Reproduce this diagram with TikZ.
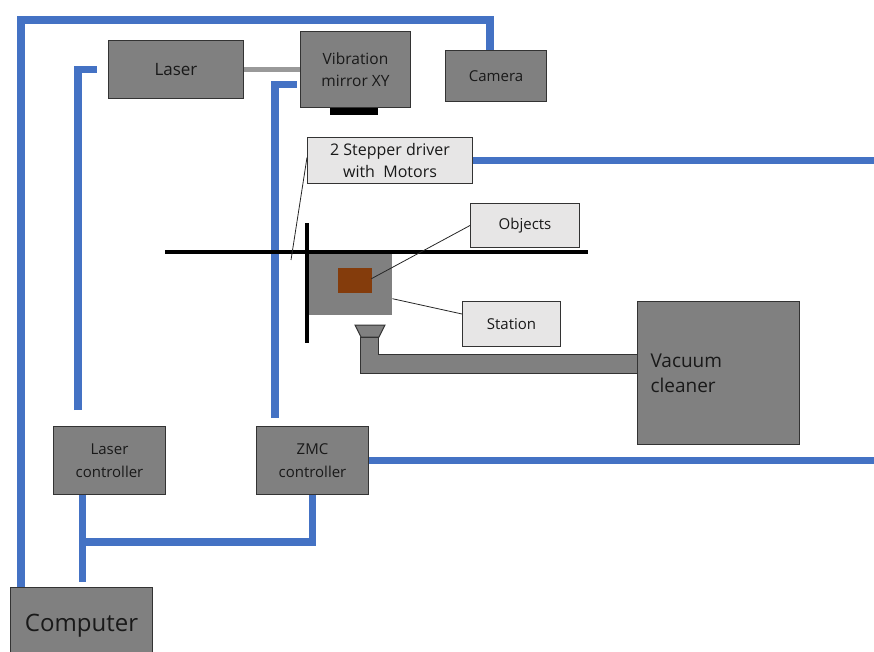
\documentclass[tikz,border=0pt]{standalone}
\usepackage{fontspec}
\setmainfont{Open Sans}
\definecolor{wireblue}{RGB}{68,114,196}
\definecolor{boxgray}{RGB}{128,128,128}
\definecolor{lblgray}{RGB}{231,230,230}
\definecolor{objbrown}{RGB}{132,60,12}
\newcommand\fsz[2]{\fontsize{#1}{#2}\selectfont}
\begin{document}
\begin{tikzpicture}[x=1pt,y=-1pt]
    \tikzstyle{box}=[draw=black!80,fill=boxgray,line width=1pt,inner sep=0pt,anchor=north west,align=center,text=black!90]
    \tikzstyle{lbl}=[box,fill=lblgray]
    \tikzstyle{wire}=[draw=wireblue,line width=7.5pt]
    \tikzstyle{rail}=[draw=black,line width=4pt]
    \tikzstyle{pointer}=[draw=black!85,line width=0.8pt]

    \useasboundingbox (0,0) rectangle (874,652);
    \coordinate (east) at (874,0);

    \node[box,minimum width=135pt,minimum height=58pt,font=\fsz{17}{22}] (laser) at (108,40) {Laser};
    \node[box,minimum width=110pt,minimum height=76pt,font=\fsz{15.5}{22}] (vmirror) at (300,31) {Vibration\\mirror XY};
    \node[box,minimum width=101pt,minimum height=51pt,font=\fsz{15}{20}] (camera) at (445,50) {Camera};
    \node[lbl,minimum width=165pt,minimum height=46pt,font=\fsz{16}{22}] (stepper) at (307,137) {2 Stepper driver\\with\ \ Motors};
    \node[lbl,minimum width=109pt,minimum height=44pt,font=\fsz{15}{20}] (objlbl) at (470,203) {Objects};
    \node[lbl,minimum width=98pt,minimum height=45pt,font=\fsz{15}{20}] (stationlbl) at (462,301) {Station};
    \node[box,minimum width=162pt,minimum height=143pt,text width=136pt,align=left,font=\fsz{19}{25}] (vacuum) at (637,301) {Vacuum\\cleaner};
    \node[box,minimum width=112pt,minimum height=68pt,font=\fsz{15}{23}] (lctrl) at (53,426) {Laser\\controller};
    \node[box,minimum width=112pt,minimum height=68pt,font=\fsz{15}{23}] (zmc) at (256,426) {ZMC\\controller};
    \node[box,minimum width=142pt,minimum height=80pt,font=\fsz{24}{28}] (computer) at (10,587) {\raisebox{9pt}{Computer}};

    \draw[wire] ([xshift=11pt]computer.north west) -- ++(0,-567) -| ([xshift=-6pt]camera.north);
    \draw[wire] ([xshift=25pt,yshift=16pt]lctrl.north west) |- ([xshift=-11pt]laser.west);
    \draw[wire] ([xshift=19pt,yshift=8pt]zmc.north west) |- ([xshift=-3pt,yshift=-15pt]vmirror.west);
    \draw[wire] (stepper.east) -- (stepper.east -| east);
    \draw[wire] (zmc.east) -- (zmc.east -| east);
    \coordinate (jn) at (82,542);
    \draw[wire] ([xshift=-27pt]lctrl.south) -- ([xshift=-27pt,yshift=-87pt]lctrl.south);
    \draw[wire] (zmc.south) |- (jn);

    \draw[draw=black!40,line width=5pt] (laser.east) -- (laser.east -| vmirror.west);
    \fill[black] (330,108) rectangle (378,115);

    \node[fill=boxgray,inner sep=0pt,minimum width=85pt,minimum height=63pt,anchor=north west] (plate) at (307,252) {};
    \draw[rail] (165,252) -- (588,252);
    \draw[rail] (307,223) -- (307,343);
    \node[fill=objbrown,inner sep=0pt,minimum width=34pt,minimum height=25pt,anchor=north west] (obj) at (338,268) {};

    \draw[box] (355,325) -- (385,325) -- (379,337) -- (361,337) -- cycle;
    \draw[box] (360,337) -- (378,337) -- (378,354) -- (vacuum.west |- 0,354) -- (vacuum.west |- 0,373) -- (360,373) -- cycle;

    \coordinate (railend) at (291,260);
    \draw[pointer] ([yshift=3pt]stepper.west) -- (railend);
    \draw[pointer] (objlbl.west) -- ([xshift=-1pt,yshift=2pt]obj.east);
    \draw[pointer] ([yshift=10pt]stationlbl.west) -- ([yshift=-15pt]plate.east);
\end{tikzpicture}
\end{document}
